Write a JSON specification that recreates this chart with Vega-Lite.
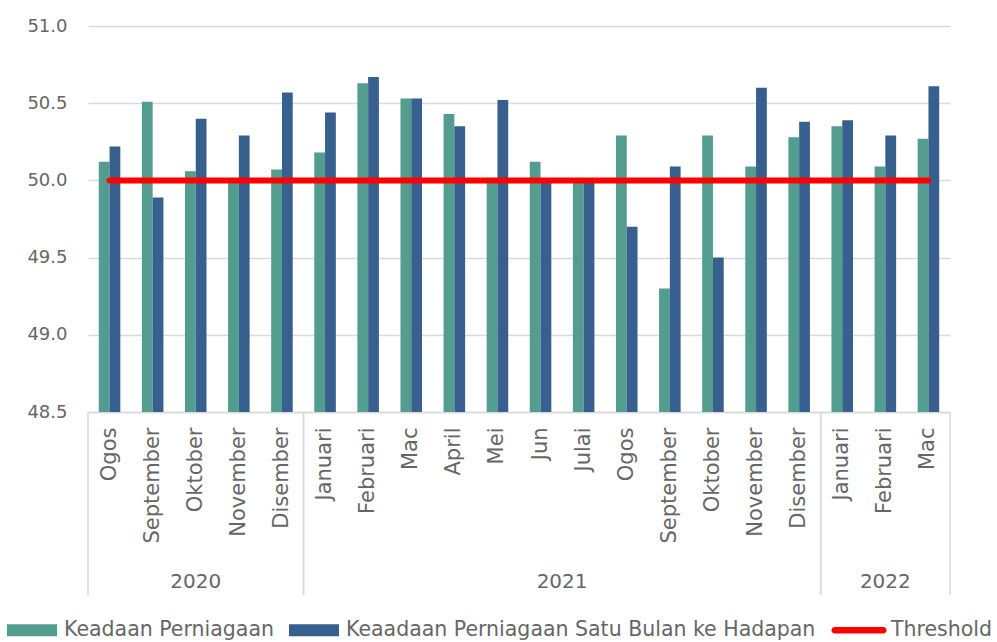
{
  "$schema": "https://vega.github.io/schema/vega-lite/v6.json",
  "autosize": {"type": "none"},
  "padding": {"left": 88, "top": 26, "right": 47, "bottom": 230},
  "width": 862,
  "height": 386,
  "config": {
    "view": {"stroke": null},
    "font": "DejaVu Sans",
    "text": {"font": "DejaVu Sans"}
  },
  "datasets": {
    "main": [
      {"k": "Ogos|2020", "s": "Keadaan Perniagaan", "v": 50.12},
      {"k": "Ogos|2020", "s": "Keaadaan Perniagaan Satu Bulan ke Hadapan", "v": 50.22},
      {"k": "Ogos|2020", "s": "Threshold", "v": 50},
      {"k": "September|2020", "s": "Keadaan Perniagaan", "v": 50.51},
      {"k": "September|2020", "s": "Keaadaan Perniagaan Satu Bulan ke Hadapan", "v": 49.89},
      {"k": "September|2020", "s": "Threshold", "v": 50},
      {"k": "Oktober|2020", "s": "Keadaan Perniagaan", "v": 50.06},
      {"k": "Oktober|2020", "s": "Keaadaan Perniagaan Satu Bulan ke Hadapan", "v": 50.40},
      {"k": "Oktober|2020", "s": "Threshold", "v": 50},
      {"k": "November|2020", "s": "Keadaan Perniagaan", "v": 50.0},
      {"k": "November|2020", "s": "Keaadaan Perniagaan Satu Bulan ke Hadapan", "v": 50.29},
      {"k": "November|2020", "s": "Threshold", "v": 50},
      {"k": "Disember|2020", "s": "Keadaan Perniagaan", "v": 50.07},
      {"k": "Disember|2020", "s": "Keaadaan Perniagaan Satu Bulan ke Hadapan", "v": 50.57},
      {"k": "Disember|2020", "s": "Threshold", "v": 50},
      {"k": "Januari|2021", "s": "Keadaan Perniagaan", "v": 50.18},
      {"k": "Januari|2021", "s": "Keaadaan Perniagaan Satu Bulan ke Hadapan", "v": 50.44},
      {"k": "Januari|2021", "s": "Threshold", "v": 50},
      {"k": "Februari|2021", "s": "Keadaan Perniagaan", "v": 50.63},
      {"k": "Februari|2021", "s": "Keaadaan Perniagaan Satu Bulan ke Hadapan", "v": 50.67},
      {"k": "Februari|2021", "s": "Threshold", "v": 50},
      {"k": "Mac|2021", "s": "Keadaan Perniagaan", "v": 50.53},
      {"k": "Mac|2021", "s": "Keaadaan Perniagaan Satu Bulan ke Hadapan", "v": 50.53},
      {"k": "Mac|2021", "s": "Threshold", "v": 50},
      {"k": "April|2021", "s": "Keadaan Perniagaan", "v": 50.43},
      {"k": "April|2021", "s": "Keaadaan Perniagaan Satu Bulan ke Hadapan", "v": 50.35},
      {"k": "April|2021", "s": "Threshold", "v": 50},
      {"k": "Mei|2021", "s": "Keadaan Perniagaan", "v": 50.0},
      {"k": "Mei|2021", "s": "Keaadaan Perniagaan Satu Bulan ke Hadapan", "v": 50.52},
      {"k": "Mei|2021", "s": "Threshold", "v": 50},
      {"k": "Jun|2021", "s": "Keadaan Perniagaan", "v": 50.12},
      {"k": "Jun|2021", "s": "Keaadaan Perniagaan Satu Bulan ke Hadapan", "v": 50.0},
      {"k": "Jun|2021", "s": "Threshold", "v": 50},
      {"k": "Julai|2021", "s": "Keadaan Perniagaan", "v": 50.0},
      {"k": "Julai|2021", "s": "Keaadaan Perniagaan Satu Bulan ke Hadapan", "v": 50.0},
      {"k": "Julai|2021", "s": "Threshold", "v": 50},
      {"k": "Ogos|2021", "s": "Keadaan Perniagaan", "v": 50.29},
      {"k": "Ogos|2021", "s": "Keaadaan Perniagaan Satu Bulan ke Hadapan", "v": 49.7},
      {"k": "Ogos|2021", "s": "Threshold", "v": 50},
      {"k": "September|2021", "s": "Keadaan Perniagaan", "v": 49.3},
      {"k": "September|2021", "s": "Keaadaan Perniagaan Satu Bulan ke Hadapan", "v": 50.09},
      {"k": "September|2021", "s": "Threshold", "v": 50},
      {"k": "Oktober|2021", "s": "Keadaan Perniagaan", "v": 50.29},
      {"k": "Oktober|2021", "s": "Keaadaan Perniagaan Satu Bulan ke Hadapan", "v": 49.5},
      {"k": "Oktober|2021", "s": "Threshold", "v": 50},
      {"k": "November|2021", "s": "Keadaan Perniagaan", "v": 50.09},
      {"k": "November|2021", "s": "Keaadaan Perniagaan Satu Bulan ke Hadapan", "v": 50.6},
      {"k": "November|2021", "s": "Threshold", "v": 50},
      {"k": "Disember|2021", "s": "Keadaan Perniagaan", "v": 50.28},
      {"k": "Disember|2021", "s": "Keaadaan Perniagaan Satu Bulan ke Hadapan", "v": 50.38},
      {"k": "Disember|2021", "s": "Threshold", "v": 50},
      {"k": "Januari|2022", "s": "Keadaan Perniagaan", "v": 50.35},
      {"k": "Januari|2022", "s": "Keaadaan Perniagaan Satu Bulan ke Hadapan", "v": 50.39},
      {"k": "Januari|2022", "s": "Threshold", "v": 50},
      {"k": "Februari|2022", "s": "Keadaan Perniagaan", "v": 50.09},
      {"k": "Februari|2022", "s": "Keaadaan Perniagaan Satu Bulan ke Hadapan", "v": 50.29},
      {"k": "Februari|2022", "s": "Threshold", "v": 50},
      {"k": "Mac|2022", "s": "Keadaan Perniagaan", "v": 50.27},
      {"k": "Mac|2022", "s": "Keaadaan Perniagaan Satu Bulan ke Hadapan", "v": 50.61},
      {"k": "Mac|2022", "s": "Threshold", "v": 50}
    ],
    "years": [
      {"y": "2020", "first": "Ogos|2020", "last": "Disember|2020", "mid": "Oktober|2020", "even": false},
      {"y": "2021", "first": "Januari|2021", "last": "Disember|2021", "mid": "Julai|2021", "even": true},
      {"y": "2022", "first": "Januari|2022", "last": "Mac|2022", "mid": "Februari|2022", "even": false}
    ]
  },
  "layer": [
    {
      "data": {"name": "main"},
      "transform": [{"filter": "datum.s !== 'Threshold'"}],
      "mark": {"type": "bar"},
      "encoding": {
        "x": {
          "field": "k", "type": "nominal", "title": null,
          "scale": {"domain": ["Ogos|2020","September|2020","Oktober|2020","November|2020","Disember|2020","Januari|2021","Februari|2021","Mac|2021","April|2021","Mei|2021","Jun|2021","Julai|2021","Ogos|2021","September|2021","Oktober|2021","November|2021","Disember|2021","Januari|2022","Februari|2022","Mac|2022"], "paddingInner": 0, "paddingOuter": 0},
          "axis": {"title": null, "labelExpr": "split(datum.value, '|')[0]", "labelAngle": -90, "labelAlign": "right", "labelBaseline": "middle", "labelFontSize": 21, "labelFont": "DejaVu Sans", "labelColor": "#666666", "labelPadding": 15, "ticks": false, "domainColor": "#d9d9d9", "domainWidth": 1.5, "grid": false, "labelOverlap": false}
        },
        "xOffset": {"field": "s", "type": "nominal", "sort": ["Keadaan Perniagaan", "Keaadaan Perniagaan Satu Bulan ke Hadapan"], "scale": {"paddingInner": 0, "paddingOuter": 1.155}},
        "y": {
          "field": "v", "type": "quantitative", "title": null,
          "scale": {"domain": [48.5, 51], "nice": false, "zero": false},
          "axis": {"title": null, "values": [48.5, 49, 49.5, 50, 50.5, 51], "format": ".1f", "labelFontSize": 18, "labelFont": "DejaVu Sans", "labelColor": "#666666", "labelPadding": 21, "ticks": false, "domain": false, "gridColor": "#d9d9d9", "gridWidth": 1.5}
        },
        "y2": {"datum": 48.5},
        "color": {
          "field": "s", "type": "nominal",
          "scale": {"domain": ["Keadaan Perniagaan", "Keaadaan Perniagaan Satu Bulan ke Hadapan", "Threshold"], "range": ["#529c90", "#37608f", "#ff0000"]},
          "legend": {
            "title": null, "orient": "none", "direction": "horizontal", "legendX": -81, "legendY": 579, "padding": 0,
            "symbolSize": 2500, "labelFontSize": 20.5, "labelFont": "DejaVu Sans", "labelColor": "#666666", "labelOffset": 7, "columnPadding": 15, "labelLimit": 600,
            "encode": {"symbols": {"update": {
              "shape": {"signal": "datum.value === 'Threshold' ? 'M-0.97,-0.13H0.97A0.13,0.13 0 0 1 0.97,0.13H-0.97A0.13,0.13 0 0 1 -0.97,-0.13Z' : 'M-1,-0.24H1V0.24H-1Z'"},
              "fill": {"scale": "color", "field": "value"},
              "stroke": {"value": "transparent"},
              "strokeWidth": {"value": 0},
              "opacity": {"value": 1}
            }}}
          }
        }
      }
    },
    {
      "data": {"name": "main"},
      "transform": [{"filter": "datum.s === 'Threshold'"}],
      "mark": {"type": "line", "strokeWidth": 6, "strokeCap": "round", "strokeJoin": "round"},
      "encoding": {
        "x": {
          "field": "k", "type": "nominal", "title": null,
          "sort": ["Ogos|2020","September|2020","Oktober|2020","November|2020","Disember|2020","Januari|2021","Februari|2021","Mac|2021","April|2021","Mei|2021","Jun|2021","Julai|2021","Ogos|2021","September|2021","Oktober|2021","November|2021","Disember|2021","Januari|2022","Februari|2022","Mac|2022"],
          "scale": {"domain": ["Ogos|2020","September|2020","Oktober|2020","November|2020","Disember|2020","Januari|2021","Februari|2021","Mac|2021","April|2021","Mei|2021","Jun|2021","Julai|2021","Ogos|2021","September|2021","Oktober|2021","November|2021","Disember|2021","Januari|2022","Februari|2022","Mac|2022"], "paddingInner": 0, "paddingOuter": 0}
        },
        "y": {"field": "v", "type": "quantitative", "title": null, "scale": {"domain": [48.5, 51], "nice": false, "zero": false}},
        "color": {"field": "s", "type": "nominal"}
      }
    },
    {
      "data": {"name": "years"},
      "mark": {"type": "rule", "color": "#d9d9d9", "strokeWidth": 1.5},
      "encoding": {
        "x": {
          "field": "first", "type": "nominal", "title": null, "bandPosition": 0,
          "scale": {"domain": ["Ogos|2020","September|2020","Oktober|2020","November|2020","Disember|2020","Januari|2021","Februari|2021","Mac|2021","April|2021","Mei|2021","Jun|2021","Julai|2021","Ogos|2021","September|2021","Oktober|2021","November|2021","Disember|2021","Januari|2022","Februari|2022","Mac|2022"], "paddingInner": 0, "paddingOuter": 0}
        },
        "y": {"datum": 48.5, "type": "quantitative", "scale": {"domain": [48.5, 51], "nice": false, "zero": false}},
        "y2": {"datum": 47.315}
      }
    },
    {
      "data": {"name": "years"},
      "mark": {"type": "rule", "color": "#d9d9d9", "strokeWidth": 1.5},
      "encoding": {
        "x": {
          "field": "last", "type": "nominal", "title": null, "bandPosition": 1,
          "scale": {"domain": ["Ogos|2020","September|2020","Oktober|2020","November|2020","Disember|2020","Januari|2021","Februari|2021","Mac|2021","April|2021","Mei|2021","Jun|2021","Julai|2021","Ogos|2021","September|2021","Oktober|2021","November|2021","Disember|2021","Januari|2022","Februari|2022","Mac|2022"], "paddingInner": 0, "paddingOuter": 0}
        },
        "y": {"datum": 48.5, "type": "quantitative", "scale": {"domain": [48.5, 51], "nice": false, "zero": false}},
        "y2": {"datum": 47.315}
      }
    },
    {
      "data": {"name": "years"},
      "transform": [{"filter": "!datum.even"}],
      "mark": {"type": "text", "fontSize": 20, "color": "#666666", "align": "center", "baseline": "middle"},
      "encoding": {
        "x": {
          "field": "mid", "type": "nominal", "title": null, "bandPosition": 0.5,
          "scale": {"domain": ["Ogos|2020","September|2020","Oktober|2020","November|2020","Disember|2020","Januari|2021","Februari|2021","Mac|2021","April|2021","Mei|2021","Jun|2021","Julai|2021","Ogos|2021","September|2021","Oktober|2021","November|2021","Disember|2021","Januari|2022","Februari|2022","Mac|2022"], "paddingInner": 0, "paddingOuter": 0}
        },
        "y": {"datum": 47.4, "type": "quantitative", "scale": {"domain": [48.5, 51], "nice": false, "zero": false}},
        "text": {"field": "y"}
      }
    },
    {
      "data": {"name": "years"},
      "transform": [{"filter": "datum.even"}],
      "mark": {"type": "text", "fontSize": 20, "color": "#666666", "align": "center", "baseline": "middle"},
      "encoding": {
        "x": {
          "field": "mid", "type": "nominal", "title": null, "bandPosition": 0,
          "scale": {"domain": ["Ogos|2020","September|2020","Oktober|2020","November|2020","Disember|2020","Januari|2021","Februari|2021","Mac|2021","April|2021","Mei|2021","Jun|2021","Julai|2021","Ogos|2021","September|2021","Oktober|2021","November|2021","Disember|2021","Januari|2022","Februari|2022","Mac|2022"], "paddingInner": 0, "paddingOuter": 0}
        },
        "y": {"datum": 47.4, "type": "quantitative", "scale": {"domain": [48.5, 51], "nice": false, "zero": false}},
        "text": {"field": "y"}
      }
    }
  ]
}
